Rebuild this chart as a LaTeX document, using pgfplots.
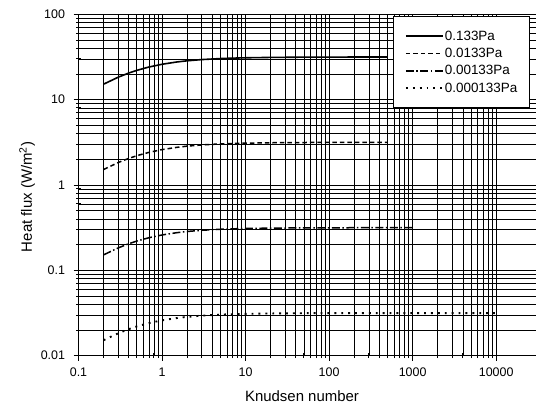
\documentclass[border=0pt]{standalone}
\usepackage{fontspec}
\setmainfont{Liberation Sans}
\usepackage{pgfplots}
\pgfplotsset{compat=1.18}
\begin{document}
\begin{tikzpicture}
\begin{axis}[
  scale only axis,
  width=457.5bp, height=341.4bp,
  xmode=log, ymode=log,
  xmin=0.1, xmax=30000, ymin=0.01, ymax=100,
  log ticks with fixed point,
  /pgf/number format/assume math mode=true,
  /pgf/number format/1000 sep={},
  grid=both,
  major grid style={black, line width=0.9bp},
  minor grid style={black, line width=0.8bp},
  axis y line*=left, axis x line*=bottom,
  axis line style={black, line width=1bp, -},
  tick align=center,
  major tick length=10bp, minor tick length=5bp,
  tick style={black, line width=0.9bp},
  ticklabel style={font=\fontsize{12.5}{14}\selectfont},
  xticklabel style={yshift=-4bp},
  yticklabel style={xshift=-5bp},
  xlabel={Knudsen number},
  ylabel={Heat flux (W/m\textsuperscript{2})},
  label style={font=\fontsize{15}{18}\selectfont},
  xlabel style={at={(axis description cs:0.4885,-0.1327)}, anchor=base},
  ylabel style={at={(axis description cs:-0.102,0.465)}, anchor=base},
  legend style={at={(axis description cs:0.6885,0.994)}, anchor=north west,
    draw=black, line width=0.9bp, fill=white,
    font=\fontsize{13.5}{15}\selectfont,
    inner xsep=11bp, inner ysep=13bp, row sep=4.5bp,
    nodes={inner sep=1bp}},
  legend cell align=left,
  legend image code/.code={\draw[#1] (0bp,0bp) -- (37bp,0bp);},
]
\addplot[black, line width=1.6bp] coordinates {
(0.2,15.2) (0.3,18.36) (0.4,20.51) (0.5,22.06) (0.7,24.14) (1,25.98) (1.5,27.62) (2,28.53) (3,29.48) (5,30.30) (7,30.65) (10,30.94) (20,31.25) (50,31.47) (100,31.53) (200,31.57) (500,31.6)};
\addlegendentry{0.133Pa}
\addplot[black, line width=1.5bp, dash pattern=on 4.5bp off 3bp] coordinates {
(0.2,1.52) (0.3,1.836) (0.4,2.051) (0.5,2.206) (0.7,2.414) (1,2.598) (1.5,2.762) (2,2.853) (3,2.948) (5,3.030) (7,3.065) (10,3.094) (20,3.125) (50,3.147) (100,3.153) (200,3.157) (500,3.16)};
\addlegendentry{0.0133Pa}
\addplot[black, line width=1.5bp, dash pattern=on 8bp off 2.5bp on 1.5bp off 2.5bp] coordinates {
(0.2,0.152) (0.3,0.1836) (0.4,0.2051) (0.5,0.2206) (0.7,0.2414) (1,0.2598) (1.5,0.2762) (2,0.2853) (3,0.2948) (5,0.3030) (7,0.3065) (10,0.3094) (20,0.3125) (50,0.3147) (100,0.3153) (200,0.3157) (500,0.316) (1000,0.316)};
\addlegendentry{0.00133Pa}
\addplot[black, line width=1.9bp, dash pattern=on 1.9bp off 5bp] coordinates {
(0.2,0.0152) (0.3,0.01836) (0.4,0.02051) (0.5,0.02206) (0.7,0.02414) (1,0.02598) (1.5,0.02762) (2,0.02853) (3,0.02948) (5,0.03030) (7,0.03065) (10,0.03094) (20,0.03125) (50,0.03147) (100,0.03153) (200,0.03157) (500,0.0316) (1000,0.0316) (2000,0.0316) (5000,0.0316) (10000,0.0316)};
\addlegendentry{0.000133Pa}
\end{axis}
\pgfresetboundingbox
\path[use as bounding box] (-78.5bp,-52.3bp) rectangle (457.5bp,355.7bp);
\end{tikzpicture}
\end{document}
